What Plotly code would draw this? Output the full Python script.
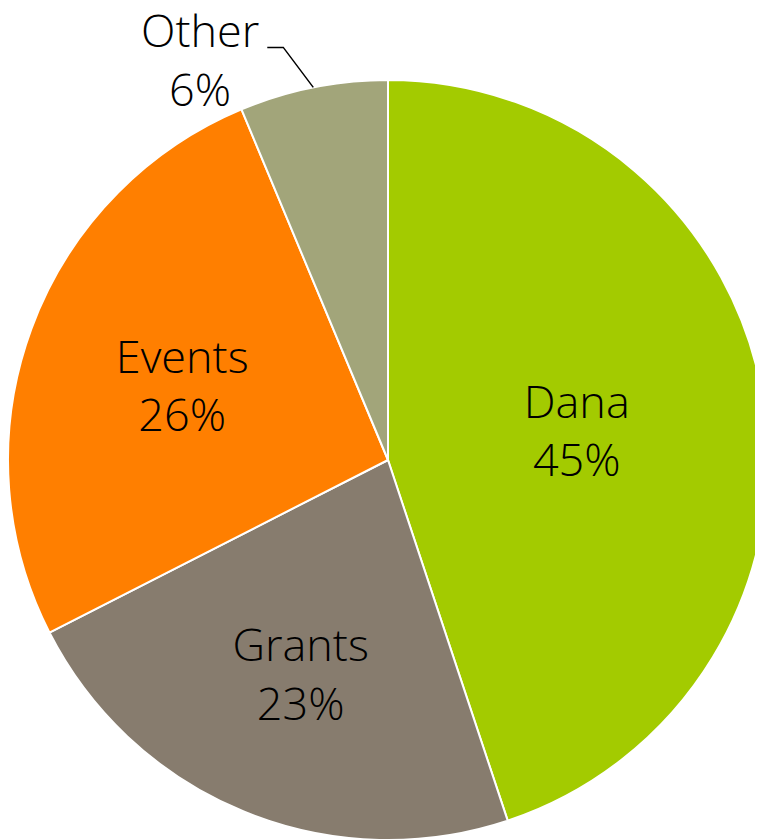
import math
import plotly.graph_objects as go

labels = ["Dana", "Grants", "Events", "Other"]
values = [44.9, 22.6, 26.2, 6.3]
colors = ["#A3CB00", "#877C6E", "#FF7F00", "#A2A57A"]
text_positions = ["inside", "inside", "inside", "none"]

W, H = 763, 839
dom_x = [0.0, 760 / W]
dom_y = [7 / H, 767 / H]
FONT = dict(family="Open Sans, sans-serif", size=45, color="black", weight=300)

fig = go.Figure(go.Pie(
    labels=labels,
    values=values,
    sort=False,
    direction="clockwise",
    rotation=0,
    marker=dict(colors=colors, line=dict(color="white", width=2)),
    texttemplate="%{label}<br>%{percent:.0%}",
    textposition=text_positions,
    insidetextorientation="horizontal",
    textfont=FONT,
    hoverinfo="label+percent",
    domain=dict(x=dom_x, y=dom_y),
    showlegend=False,
))

# Outside label with leader line for the small "Other" slice
total = sum(values)
idx = labels.index("Other")
start = sum(values[:idx]) / total
mid_frac = start + values[idx] / total / 2
ang = 2 * math.pi * mid_frac
pw = (dom_x[1] - dom_x[0]) * W
ph = (dom_y[1] - dom_y[0]) * H
r = min(pw, ph) / 2
cx = (dom_x[0] + dom_x[1]) / 2 * W
cy = H - (dom_y[0] + dom_y[1]) / 2 * H
ex = cx + r * math.sin(ang)
ey = cy - r * math.cos(ang)
kx, ky = ex - 30, ey - 40
hx = kx - 16

def px(x):
    return x / W

def py(y):
    return 1 - y / H

fig.add_shape(type="path",
              path=f"M {px(ex)} {py(ey)} L {px(kx)} {py(ky)} L {px(hx)} {py(ky)}",
              xref="paper", yref="paper",
              line=dict(color="black", width=1.5))
pct = round(values[idx] / total * 100)
fig.add_annotation(x=px(hx - 6), y=py(ky + 12), xref="paper", yref="paper",
                   xanchor="right", yanchor="middle",
                   text=f"{labels[idx]}<br>{pct}%",
                   showarrow=False, align="center", font=FONT)

fig.update_layout(
    width=W, height=H,
    margin=dict(l=0, r=0, t=0, b=0),
    paper_bgcolor="white",
    plot_bgcolor="white",
)

fig.write_html("out.html")
